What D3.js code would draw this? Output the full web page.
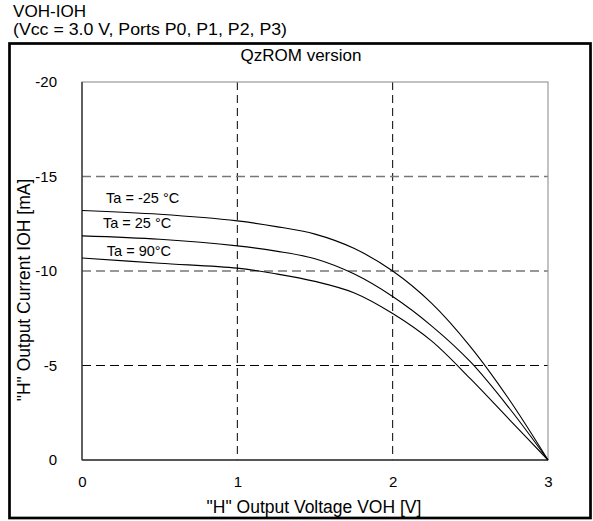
<!DOCTYPE html>
<html><head><meta charset="utf-8">
<script src="https://cdn.jsdelivr.net/npm/d3@7"></script>
<style>body{margin:0;background:#fff}svg{display:block;font-family:"Liberation Sans",Arial,sans-serif}</style>
</head><body><svg id="c" width="593" height="521"></svg>
<script>
const voltages = [0, 0.5, 1.0, 1.25, 1.5, 1.75, 2.0, 2.25, 2.5, 2.75, 3.0];
const seriesNames = ["Ta = -25 °C", "Ta = 25 °C", "Ta = 90°C"];
const ioh_m25 = [-13.2, -13.0, -12.65, -12.35, -11.95, -11.2, -10.0, -8.3, -6.0, -3.2, 0];
const ioh_25  = [-11.86, -11.68, -11.33, -11.05, -10.65, -9.85, -8.65, -7.1, -5.2, -2.75, 0];
const ioh_90  = [-10.69, -10.41, -10.15, -9.85, -9.45, -8.85, -7.75, -6.3, -4.3, -2.15, 0];
const xTicks = [0, 1, 2, 3];
const yTicks = [0, -5, -10, -15, -20];
const labelAnchors = [[0.155, -13.6], [0.135, -12.3], [0.16, -10.8]];

const svg = d3.select("#c");
const L = 82, R = 548, T = 82, B = 460;
const x = d3.scaleLinear().domain([0, 3]).range([L, R]);
const y = d3.scaleLinear().domain([0, -20]).range([B, T]);
const F = "Liberation Sans, Arial, sans-serif";

// titles
svg.append("text").attr("x", 13).attr("y", 17).attr("font-size", 16)
  .attr("textLength", 73).attr("lengthAdjust", "spacingAndGlyphs").text("VOH-IOH");
svg.append("text").attr("x", 13).attr("y", 35).attr("font-size", 16)
  .attr("textLength", 274).attr("lengthAdjust", "spacingAndGlyphs").text("(Vcc = 3.0 V, Ports P0, P1, P2, P3)");
// outer frame
svg.append("rect").attr("x", 9.5).attr("y", 43.5).attr("width", 581).attr("height", 474.5)
  .attr("fill", "none").attr("stroke", "#000").attr("stroke-width", 2.7);
svg.append("text").attr("x", 301).attr("y", 61).attr("text-anchor", "middle").attr("font-size", 17).text("QzROM version");

// grid
const gridX = xTicks.filter(v => v > 0 && v < 3);
const gridY = yTicks.filter(v => v < 0 && v > -20);
svg.append("g").selectAll("line").data(gridX).join("line")
  .attr("x1", d => x(d)).attr("x2", d => x(d)).attr("y1", T).attr("y2", B)
  .attr("stroke", "#000").attr("stroke-dasharray", "8,5");
svg.append("g").selectAll("line").data(gridY).join("line")
  .attr("x1", L).attr("x2", R).attr("y1", d => y(d)).attr("y2", d => y(d))
  .attr("stroke", d => d === -5 ? "#000" : "#777")
  .attr("stroke-width", d => d === -5 ? 1 : 1.6)
  .attr("stroke-dasharray", "9,5");

// plot border
svg.append("rect").attr("x", L).attr("y", T).attr("width", R - L).attr("height", B - T)
  .attr("fill", "none").attr("stroke", "#999").attr("stroke-width", 1.2);
svg.append("line").attr("x1", L).attr("x2", L).attr("y1", T).attr("y2", B).attr("stroke", "#000");
svg.append("line").attr("x1", L).attr("x2", R).attr("y1", B).attr("y2", B).attr("stroke", "#333").attr("stroke-width", 1.6);

// axes
const fmt = d => String(d);
const xAxis = d3.axisBottom(x).tickValues(xTicks).tickSize(0).tickPadding(16).tickFormat(fmt);
const gx = svg.append("g").attr("transform", `translate(0,${B})`).call(xAxis);
gx.select(".domain").remove();
gx.selectAll("text").attr("font-size", 15).attr("font-family", F).attr("fill", "#000");
const yAxis = d3.axisLeft(y).tickValues(yTicks).tickSize(0).tickPadding(25).tickFormat(fmt);
const gy = svg.append("g").attr("transform", `translate(${L},0)`).call(yAxis);
gy.select(".domain").remove();
gy.selectAll("text").attr("font-size", 15).attr("font-family", F).attr("fill", "#000");

svg.append("text").attr("x", 314).attr("y", 513).attr("text-anchor", "middle").attr("font-size", 17.5)
  .text('"H" Output Voltage VOH [V]');
svg.append("text").attr("transform", "translate(30,290) rotate(-90)").attr("text-anchor", "middle").attr("font-size", 17.5)
  .text('"H" Output Current IOH [mA]');

// curves
const series = [ioh_m25, ioh_25, ioh_90];
const line = d3.line().x((d, i) => x(voltages[i])).y(d => y(d)).curve(d3.curveCatmullRom.alpha(0.5));
svg.append("g").selectAll("path").data(series).join("path")
  .attr("d", d => line(d)).attr("fill", "none").attr("stroke", "#000").attr("stroke-width", 1.1);

svg.append("g").selectAll("text").data(seriesNames).join("text")
  .attr("x", (d, i) => x(labelAnchors[i][0])).attr("y", (d, i) => y(labelAnchors[i][1]))
  .attr("font-size", 14.5).text(d => d);
</script></body></html>
